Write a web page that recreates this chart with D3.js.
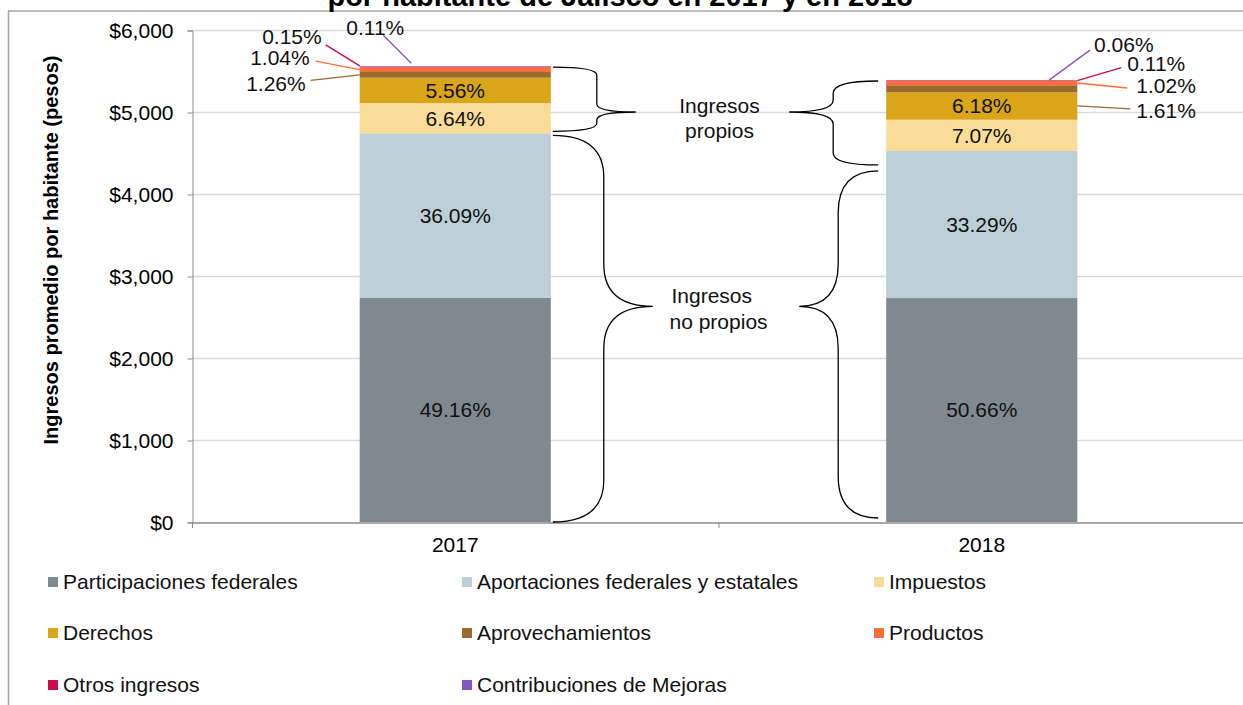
<!DOCTYPE html>
<html>
<head>
<meta charset="utf-8">
<script src="https://cdn.jsdelivr.net/npm/d3@7"></script>
<style>
  body { margin: 0; background: #fff; }
  svg { display: block; font-family: "Liberation Sans", Arial, sans-serif; }
</style>
</head>
<body>
<script>
// Data
const years = ['2017', '2018']
const series = [
    'Participaciones federales',
    'Aportaciones federales y estatales',
    'Impuestos',
    'Derechos',
    'Aprovechamientos',
    'Productos',
    'Otros ingresos',
    'Contribuciones de Mejoras',
]
const colors = ['#7f898f', '#bccfd6', '#f9dc97', '#daa519', '#9a6a2e', '#ff6d38', '#cc0a4e', '#8454c4']
// pesos per habitant, by series
const values2017 = [2733, 2007, 369, 309, 70, 58, 8, 6]
const values2018 = [2731, 1794, 381, 333, 87, 55, 6, 3]
const pct2017 = ['49.16%', '36.09%', '6.64%', '5.56%', '1.26%', '1.04%', '0.15%', '0.11%']
const pct2018 = ['50.66%', '33.29%', '7.07%', '6.18%', '1.61%', '1.02%', '0.11%', '0.06%']
const yTicks = [0, 1000, 2000, 3000, 4000, 5000, 6000]

const W = 1243, H = 705
const margin = { top: 30, right: -2, bottom: 183, left: 192 }
const width = W - margin.left - margin.right
const height = H - margin.top - margin.bottom
const fontSize = '21px'

const svg = d3.select('body').append('svg')
    .attr('width', W)
    .attr('height', H)

// outer chart frame (partly cut off)
svg.append('path')
    .attr('d', `M8.5,${H} V11 H${W}`)
    .style('fill', 'none')
    .style('stroke', '#a6a6a6')
    .style('stroke-width', 1.5)

svg.append('text')
    .attr('x', 620)
    .attr('y', 6)
    .attr('text-anchor', 'middle')
    .style('font-size', '29px')
    .style('font-weight', 'bold')
    .text('por habitante de Jalisco en 2017 y en 2018')

const g = svg.append('g')
    .attr('transform', `translate(${margin.left}, ${margin.top})`)

const x = d3.scaleBand()
    .domain(years)
    .range([0, width])
    .paddingInner(0)
    .paddingOuter(0)

const barW = x.bandwidth() * 0.363

const y = d3.scaleLinear()
    .domain([0, 6000])
    .range([height, 0])

// gridlines
g.selectAll('.grid')
    .data(yTicks.slice(1))
    .join('line')
        .attr('x1', 0)
        .attr('x2', width)
        .attr('y1', d => y(d) + 0.5)
        .attr('y2', d => y(d) + 0.5)
        .style('stroke', '#d9d9d9')
        .style('stroke-width', 1.5)

// y axis
const yAxis = g.append('g')
    .attr('transform', 'translate(0.5, 0.5)')
    .call(d3.axisLeft(y).tickValues(yTicks).tickSize(5).tickPadding(14)
        .tickFormat(d => '$' + d3.format(',')(d)))
yAxis.select('.domain').style('stroke', '#8c8c8c')
yAxis.selectAll('.tick line').style('stroke', '#8c8c8c')
yAxis.selectAll('text')
    .style('font-size', fontSize)
    .style('font-family', '"Liberation Sans", Arial, sans-serif')
    .style('fill', '#000')

// x axis
const xAxis = g.append('g')
    .attr('transform', `translate(0, ${height + 0.5})`)
    .call(d3.axisBottom(x).tickSize(0).tickPadding(15))
xAxis.select('.domain').style('stroke', '#8c8c8c').style('stroke-width', 1.5)
xAxis.selectAll('text')
    .style('font-size', fontSize)
    .style('font-family', '"Liberation Sans", Arial, sans-serif')
    .style('fill', '#000')
// category separators
g.selectAll('.sep')
    .data([0, x.step()])
    .join('line')
        .attr('x1', d => d + 0.5)
        .attr('x2', d => d + 0.5)
        .attr('y1', height)
        .attr('y2', height + 6)
        .style('stroke', '#8c8c8c')

// axis title
svg.append('text')
    .attr('transform', 'translate(58, 250) rotate(-90)')
    .attr('text-anchor', 'middle')
    .style('font-size', '20px')
    .style('font-weight', 'bold')
    .text('Ingresos promedio por habitante (pesos)')

// stack
const table = years.map((yr, i) => {
    const row = { year: yr }
    const vals = i === 0 ? values2017 : values2018
    series.forEach((s, j) => { row[s] = vals[j] })
    return row
})
const stacked = d3.stack().keys(series)(table)
const pcts = { '2017': pct2017, '2018': pct2018 }

const bx = yr => x(yr) + (x.bandwidth() - barW) / 2

stacked.forEach((layer, j) => {
    g.selectAll(null)
        .data(layer)
        .join('rect')
            .attr('x', d => bx(d.data.year))
            .attr('y', d => y(d[1]))
            .attr('width', barW)
            .attr('height', d => y(d[0]) - y(d[1]))
            .style('fill', colors[j])
})

// inside labels for the four largest segments
stacked.slice(0, 4).forEach((layer, j) => {
    g.selectAll(null)
        .data(layer)
        .join('text')
            .attr('x', d => bx(d.data.year) + barW / 2)
            .attr('y', d => (y(d[0]) + y(d[1])) / 2)
            .attr('dy', '0.35em')
            .attr('text-anchor', 'middle')
            .style('font-size', fontSize)
            .style('fill', '#111')
            .text(d => pcts[d.data.year][j])
})

// leader labels for the small segments
// [series, point along bar width, point y shift, line dx, line dy, text dx, text dy, anchor]
const leaders = {
    '2017': [
        [4, 0, 0, -49, 5.5, -5, 3, 'end'],
        [5, 0, 0, -44, -8.5, -6, -3, 'end'],
        [6, 0, -1, -34, -21, -4, -8, 'end'],
        [7, 0.27, -3, -28, -28, -8, -8, 'middle'],
    ],
    '2018': [
        [4, 1, 17, 53, 3, 6, 2, 'start'],
        [5, 1, 0, 50, 5, 9, -2, 'start'],
        [6, 1, 0, 44, -13, 6, -4, 'start'],
        [7, 0.852, 0, 41, -30, 4, -5, 'start'],
    ],
}
Object.keys(leaders).forEach(yr => {
    const i = years.indexOf(yr)
    leaders[yr].forEach(([j, fx, sy, ldx, ldy, tdx, tdy, anchor]) => {
        const d = stacked[j][i]
        const px = bx(yr) + barW * fx
        const py = (y(d[0]) + y(d[1])) / 2 + sy
        const lx = px + ldx, ly = py + ldy
        g.append('line')
            .attr('x1', px).attr('y1', py)
            .attr('x2', lx).attr('y2', ly)
            .style('stroke', colors[j])
            .style('stroke-width', 1.3)
        g.append('text')
            .attr('x', lx + tdx)
            .attr('y', ly + tdy)
            .attr('dy', '0.35em')
            .attr('text-anchor', anchor)
            .style('font-size', fontSize)
            .style('fill', '#111')
            .text(pcts[yr][j])
    })
})

// curly braces
function brace(x0, y0, y1, xm, xt, ym, r) {
    return `M${x0},${y0} Q${xm},${y0} ${xm},${y0 + r}` +
        ` L${xm},${ym - r} Q${xm},${ym} ${xt},${ym}` +
        ` Q${xm},${ym} ${xm},${ym + r}` +
        ` L${xm},${y1 - r} Q${xm},${y1} ${x0},${y1}`
}
const top2017 = stacked[series.length - 1][0][1]
const top2018 = stacked[series.length - 1][1][1]
const aport2017 = stacked[1][0][1]
const aport2018 = stacked[1][1][1]
const r17 = bx('2017') + barW + 2
const l18 = bx('2018') - 8
const braces = [
    [r17, y(top2017) + 1, y(aport2017) - 2, r17 + 44, r17 + 83, y(5000), 8],
    [r17, y(aport2017) + 2, y(0), r17 + 51, r17 + 100, y(2630), 42],
    [l18, y(top2018) + 1, y(aport2018) + 14, l18 - 45, l18 - 89, y(5000), 12],
    [l18, y(aport2018) + 20, y(0) - 4, l18 - 40, l18 - 79, y(2630), 42],
]
braces.forEach(b => {
    g.append('path')
        .attr('d', brace(...b))
        .style('fill', 'none')
        .style('stroke', '#000')
        .style('stroke-width', 1.3)
})

const mid = (r17 + l18) / 2
const np = g.append('text')
    .style('font-size', fontSize)
    .style('fill', '#111')
np.append('tspan').attr('x', mid + 4).attr('y', y(5000) + 0.5).attr('text-anchor', 'middle').text('Ingresos')
np.append('tspan').attr('x', mid + 4).attr('y', y(5000) + 25.5).attr('text-anchor', 'middle').text('propios')
const nnp = g.append('text')
    .style('font-size', fontSize)
    .style('fill', '#111')
nnp.append('tspan').attr('x', mid - 44).attr('y', y(2630) - 3).text('Ingresos')
nnp.append('tspan').attr('x', mid - 46).attr('y', y(2630) + 23).text('no propios')

// legend
const legCols = [48, 462, 874]
const legRows = [582, 633, 685]
const legend = svg.selectAll('.leg')
    .data(series)
    .join('g')
        .attr('transform', (d, i) => `translate(${legCols[i % 3]}, ${legRows[Math.floor(i / 3)]})`)
legend.append('rect')
    .attr('x', 0).attr('y', -5)
    .attr('width', 10).attr('height', 10)
    .style('fill', (d, i) => colors[i])
legend.append('text')
    .attr('x', 15)
    .attr('dy', '0.35em')
    .style('font-size', fontSize)
    .style('fill', '#111')
    .text(d => d)
</script>
</body>
</html>
